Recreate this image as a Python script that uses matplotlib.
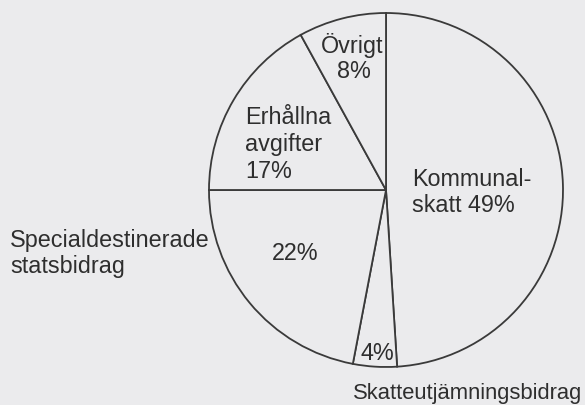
import matplotlib
matplotlib.use('Agg')
import matplotlib.pyplot as plt

# income shares, clockwise from 12 o'clock
shares = [49, 4, 22, 17, 8]
names = ['Kommunalskatt', 'Skatteutjämningsbidrag', 'Specialdestinerade statsbidrag',
         'Erhållna avgifter', 'Övrigt']

bg = '#ebebed'
ink = '#2e2e2e'

plt.rcParams['font.family'] = ['Liberation Sans', 'DejaVu Sans']

fig = plt.figure(figsize=(5.85, 4.05), dpi=100, facecolor=bg)
ax = fig.add_axes([0, 0, 1, 1])
ax.set_facecolor(bg)

H = 405
ax.pie(shares, startangle=90, counterclock=False,
       center=(386, H - 190), radius=177, frame=True,
       wedgeprops=dict(facecolor=bg, edgecolor='#3a3a3a', linewidth=1.3))
ax.set_xlim(0, 585)
ax.set_ylim(0, H)
ax.set_aspect('equal')
ax.axis('off')

fs = 16.8
tk = dict(color=ink, fontsize=fs, va='center')
ax.text(352, H - 45, 'Övrigt', ha='center', **tk)
ax.text(354, H - 71, '8%', ha='center', **tk)
ax.text(245, H - 117, 'Erhållna', ha='left', **tk)
ax.text(245, H - 144, 'avgifter', ha='left', **tk)
ax.text(245, H - 171, '17%', ha='left', **tk)
ax.text(412, H - 180, 'Kommunal-', ha='left', **tk)
ax.text(412, H - 206, 'skatt 49%', ha='left', **tk)
ax.text(10, H - 240, 'Specialdestinerade', ha='left', **tk)
ax.text(10, H - 267, 'statsbidrag', ha='left', **tk)
ax.text(295, H - 253, '22%', ha='center', **tk)
ax.text(377, H - 353, '4%', ha='center', **tk)
ax.text(582, H - 393, 'Skatteutjämningsbidrag', ha='right', color=ink,
        fontsize=15.8, va='center')

fig.savefig('out.png', dpi=100, facecolor=bg)
